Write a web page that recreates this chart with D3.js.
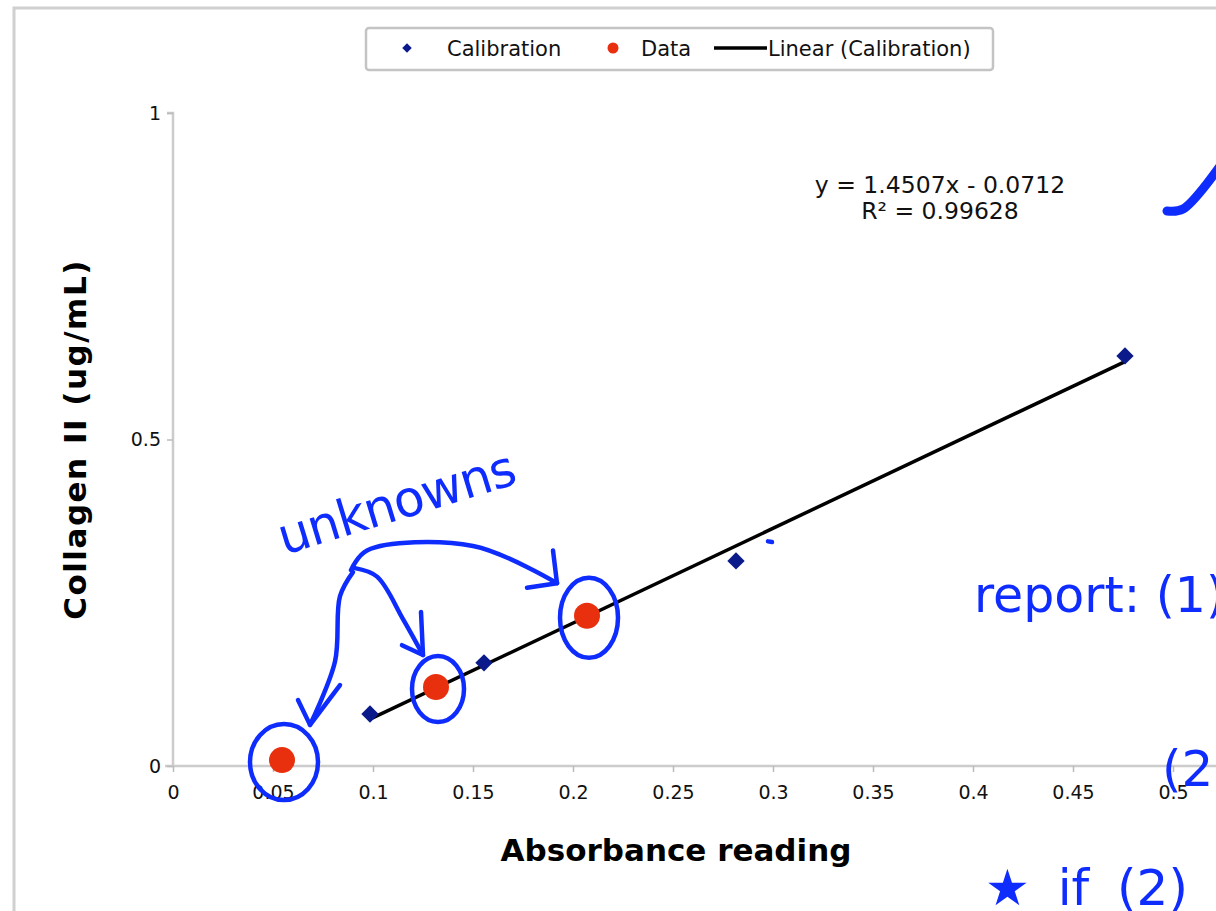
<!DOCTYPE html>
<html>
<head>
<meta charset="utf-8">
<script src="https://cdn.jsdelivr.net/npm/d3@7"></script>
<style>
  body { margin: 0; background: #fff; }
  svg { display: block; }
</style>
</head>
<body>
<svg id="chart" width="1216" height="911"></svg>
<script>
// chart data
var calibX = [0.0985, 0.1555, 0.2815, 0.476];
var calibY = [0.0796, 0.158, 0.314, 0.628];
var dataX = [0.0545, 0.1315, 0.207];
var dataY = [0.009, 0.121, 0.23];
var slope = 1.4507, intercept = -0.0712, r2 = 0.99628;
var xTicks = [0, 0.05, 0.1, 0.15, 0.2, 0.25, 0.3, 0.35, 0.4, 0.45, 0.5];
var yTicks = [0, 0.5, 1];
var legendLabels = ["Calibration", "Data", "Linear (Calibration)"];

var svg = d3.select('#chart');
var font = "'DejaVu Sans', Verdana, sans-serif";
var ink = '#0f2cff';

var x = d3.scaleLinear().domain([0, 0.5]).range([173, 1173]);
var y = d3.scaleLinear().domain([0, 1]).range([766, 113]);

// outer chart frame (cut off at right)
svg.append('path')
  .attr('d', 'M14,911 L14,8 L1230,8')
  .attr('fill', 'none').attr('stroke', '#d0d0d0').attr('stroke-width', 3);

// axes
var xAxis = svg.append('g').attr('transform', 'translate(0,' + y(0) + ')')
  .call(d3.axisBottom(x).tickValues(xTicks).tickSize(6).tickPadding(14)
    .tickFormat(function(d) { return d3.format('')(+d.toFixed(2)); }));
var yAxis = svg.append('g').attr('transform', 'translate(' + x(0) + ',0)')
  .call(d3.axisLeft(y).tickValues(yTicks).tickSize(6).tickPadding(6)
    .tickFormat(function(d) { return d3.format('')(d); }));
[xAxis, yAxis].forEach(function(g) {
  g.select('.domain').attr('stroke', '#cccccc').attr('stroke-width', 2.5);
  g.selectAll('.tick line').attr('stroke', '#bbbbbb').attr('stroke-width', 1.5);
  g.selectAll('.tick text').attr('fill', '#111').style('font-family', font).style('font-size', '19px');
});
xAxis.select('.domain').attr('d', 'M' + (x(0) - 8) + ',0H1216');
yAxis.select('.domain').attr('d', 'M-6,' + y(1) + 'H0V' + y(0));

// axis titles
svg.append('text').attr('x', 676).attr('y', 861).attr('text-anchor', 'middle')
  .style('font-family', font).style('font-weight', 'bold').style('font-size', '31px')
  .text('Absorbance reading');
svg.append('text').attr('transform', 'translate(86,' + y(0.5) + ') rotate(-90)')
  .attr('text-anchor', 'middle')
  .style('font-family', font).style('font-weight', 'bold').style('font-size', '31px')
  .style('letter-spacing', '1.5px')
  .text('Collagen II (ug/mL)');

// trend line over the calibration range
var x0 = d3.min(calibX), x1 = d3.max(calibX);
svg.append('line')
  .attr('x1', x(x0)).attr('y1', y(slope * x0 + intercept))
  .attr('x2', x(x1)).attr('y2', y(slope * x1 + intercept))
  .attr('stroke', '#000').attr('stroke-width', 3.5);

// calibration diamonds
var diamond = d3.symbol().type(d3.symbolSquare).size(150);
svg.selectAll('.calib').data(calibX).enter().append('path')
  .attr('class', 'calib')
  .attr('d', diamond)
  .attr('transform', function(d, i) { return 'translate(' + x(d) + ',' + y(calibY[i]) + ') rotate(45)'; })
  .attr('fill', '#0a1a8a');

// data circles
svg.selectAll('.dat').data(dataX).enter().append('circle')
  .attr('class', 'dat')
  .attr('cx', function(d) { return x(d); })
  .attr('cy', function(d, i) { return y(dataY[i]); })
  .attr('r', 13).attr('fill', '#e8300f');

// equation
var eq = svg.append('text').attr('text-anchor', 'middle')
  .style('font-family', font).style('font-size', '23.5px').attr('fill', '#111');
eq.append('tspan').attr('x', 940).attr('y', 193).text('y = ' + slope + 'x - ' + Math.abs(intercept));
eq.append('tspan').attr('x', 940).attr('y', 219).text('R\u00b2 = ' + r2);

// legend
var lg = svg.append('g');
lg.append('rect').attr('x', 366).attr('y', 28).attr('width', 627).attr('height', 42).attr('rx', 3)
  .attr('fill', '#fff').attr('stroke', '#c4c4c4').attr('stroke-width', 2.5);
lg.append('path').attr('d', d3.symbol().type(d3.symbolSquare).size(45))
  .attr('transform', 'translate(407,48) rotate(45)').attr('fill', '#0a1a8a');
lg.append('circle').attr('cx', 613).attr('cy', 48).attr('r', 5.5).attr('fill', '#e8300f');
lg.append('line').attr('x1', 714).attr('x2', 767).attr('y1', 48).attr('y2', 48)
  .attr('stroke', '#000').attr('stroke-width', 3.5);
var lgX = [447, 641, 768];
lg.selectAll('.lt').data(legendLabels).enter().append('text')
  .attr('x', function(d, i) { return lgX[i]; }).attr('y', 56)
  .style('font-family', font).style('font-size', '21px').attr('fill', '#111')
  .text(function(d) { return d; });

// hand-drawn annotations (in data units)
var hand = svg.append('g').attr('fill', 'none').attr('stroke', ink)
  .attr('stroke-width', 4.5).attr('stroke-linecap', 'round').attr('stroke-linejoin', 'round');
var line = d3.line().x(function(d) { return x(d[0]); }).y(function(d) { return y(d[1]); }).curve(d3.curveCatmullRom);
var straight = d3.line().x(function(d) { return x(d[0]); }).y(function(d) { return y(d[1]); });

// circles around the unknowns
dataX.forEach(function(d, i) {
  var rx = [34, 26, 29][i], ry = [38, 33, 40][i];
  hand.append('ellipse').attr('cx', x(d) + 2).attr('cy', y(dataY[i]) + 2)
    .attr('rx', rx).attr('ry', ry);
});

// arrows from the word
var arrows = [
  [[0.090, 0.297], [0.0835, 0.26], [0.081, 0.16], [0.0685, 0.063]],
  [[0.091, 0.303], [0.102, 0.29], [0.115, 0.225], [0.125, 0.17]],
  [[0.089, 0.300], [0.097, 0.33], [0.15, 0.337], [0.192, 0.28]]
];
arrows.forEach(function(a) { hand.append('path').attr('d', line(a)); });
var heads = [
  [[0.0625, 0.101], [0.0685, 0.063], [0.0835, 0.124]],
  [[0.1145, 0.185], [0.125, 0.17], [0.124, 0.236]],
  [[0.177, 0.273], [0.192, 0.28], [0.19, 0.33]]
];
heads.forEach(function(h) { hand.append('path').attr('d', straight(h)); });
// stray marks
hand.append('path').attr('d', line([[0.2975, 0.344], [0.2995, 0.343]]));
hand.append('path').attr('stroke-width', 9)
  .attr('d', line([[0.497, 0.85], [0.505, 0.853], [0.525, 0.925]]));

var handFont = "'DejaVu Sans', sans-serif";
svg.append('text').attr('transform', 'translate(284,555) rotate(-17)')
  .style('font-family', handFont).style('font-size', '50px').attr('fill', ink)
  .style('letter-spacing', '-1px').text('unknowns');
svg.append('text').attr('x', 974).attr('y', 612)
  .style('font-family', handFont).style('font-size', '49px').attr('fill', ink)
  .text('report: (1)y');
svg.append('text').attr('x', 1162).attr('y', 786)
  .style('font-family', handFont).style('font-size', '50px').attr('fill', ink).text('(2)');
svg.append('text').attr('x', 985).attr('y', 905)
  .style('font-family', handFont).style('font-size', '50px').attr('fill', ink)
  .style('word-spacing', '12px').text('\u2605 if (2)');
</script>
</body>
</html>
